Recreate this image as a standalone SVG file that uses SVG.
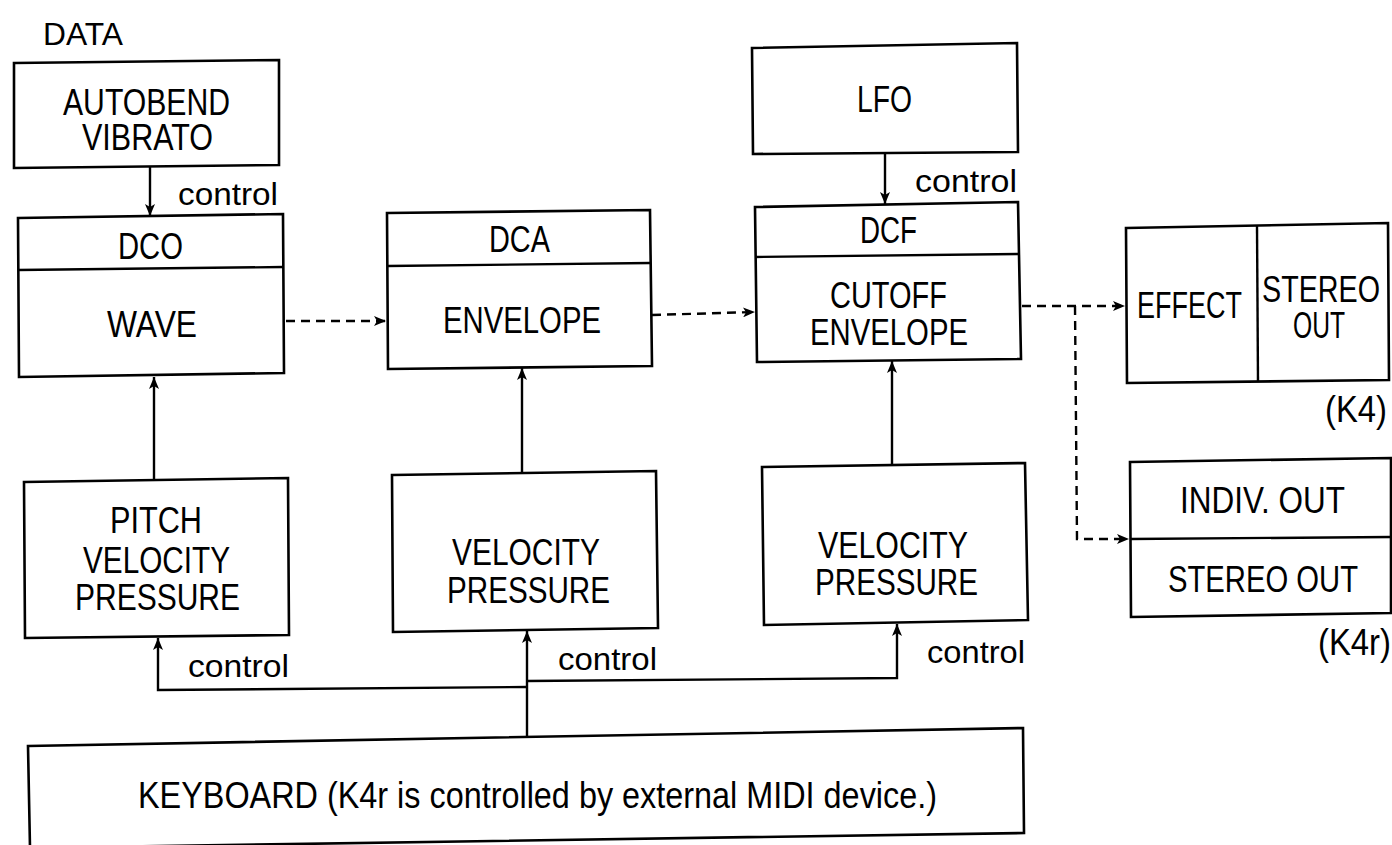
<svg xmlns="http://www.w3.org/2000/svg" width="1392" height="845" viewBox="0 0 1392 845">
<defs>
<style>
.box{fill:#fff;stroke:#000;stroke-width:2.6;stroke-linejoin:miter}
.ln{fill:none;stroke:#000;stroke-width:2.4}
.dash{fill:none;stroke:#000;stroke-width:2.4;stroke-dasharray:9 6}
.t{font-family:"Liberation Sans",Arial,sans-serif;font-size:37px;fill:#000}
.c{font-family:"Liberation Sans",Arial,sans-serif;font-size:32px;fill:#000}
</style>
<marker id="ah" viewBox="0 0 12 10" refX="12" refY="5" markerWidth="12" markerHeight="10" markerUnits="userSpaceOnUse" orient="auto">
<path d="M0,0 L12,5 L0,10 L3,5 Z" fill="#000"/>
</marker>
</defs>
<rect width="1392" height="845" fill="#fff"/>

<text class="t" x="43" y="45" textLength="80" lengthAdjust="spacingAndGlyphs" style="font-size:32px">DATA</text>

<g id="autobend">
<polygon class="box" points="14,63 279,60 279,165 14,168"/>
<text class="t" x="63" y="115" textLength="167" lengthAdjust="spacingAndGlyphs">AUTOBEND</text>
<text class="t" x="82" y="150" textLength="131" lengthAdjust="spacingAndGlyphs">VIBRATO</text>
</g>

<g id="dco">
<polygon class="box" points="18,218 283,214 284,373 19,377"/>
<line class="ln" x1="18" y1="270" x2="283" y2="267"/>
<text class="t" x="118" y="259" textLength="65" lengthAdjust="spacingAndGlyphs">DCO</text>
<text class="t" x="107" y="337" textLength="90" lengthAdjust="spacingAndGlyphs">WAVE</text>
</g>

<g id="dca">
<polygon class="box" points="387,213 650,210 652,366 388,369"/>
<line class="ln" x1="387" y1="266" x2="650" y2="263"/>
<text class="t" x="489" y="252" textLength="61" lengthAdjust="spacingAndGlyphs">DCA</text>
<text class="t" x="443" y="333" textLength="158" lengthAdjust="spacingAndGlyphs">ENVELOPE</text>
</g>

<g id="lfo">
<polygon class="box" points="752,48 1017,43 1018,152 753,154"/>
<text class="t" x="857" y="112" textLength="55" lengthAdjust="spacingAndGlyphs">LFO</text>
</g>

<g id="dcf">
<polygon class="box" points="755,207 1018,202 1021,359 757,362"/>
<line class="ln" x1="755" y1="257" x2="1018" y2="254"/>
<text class="t" x="860" y="243" textLength="57" lengthAdjust="spacingAndGlyphs">DCF</text>
<text class="t" x="830" y="308" textLength="117" lengthAdjust="spacingAndGlyphs">CUTOFF</text>
<text class="t" x="810" y="345" textLength="158" lengthAdjust="spacingAndGlyphs">ENVELOPE</text>
</g>

<g id="effect">
<polygon class="box" points="1126,228 1388,223 1389,380 1127,383"/>
<line class="ln" x1="1257" y1="226" x2="1258" y2="382"/>
<text class="t" x="1137" y="318" textLength="105" lengthAdjust="spacingAndGlyphs">EFFECT</text>
<text class="t" x="1262" y="302" textLength="118" lengthAdjust="spacingAndGlyphs">STEREO</text>
<text class="t" x="1293" y="338" textLength="52" lengthAdjust="spacingAndGlyphs">OUT</text>
<text class="t" x="1325" y="422" textLength="62" lengthAdjust="spacingAndGlyphs">(K4)</text>
</g>

<g id="indiv">
<polygon class="box" points="1130,462 1391,458 1391,613 1131,617"/>
<line class="ln" x1="1130" y1="539" x2="1391" y2="537"/>
<text class="t" x="1180" y="513" textLength="165" lengthAdjust="spacingAndGlyphs">INDIV. OUT</text>
<text class="t" x="1168" y="592" textLength="190" lengthAdjust="spacingAndGlyphs">STEREO OUT</text>
<text class="t" x="1318" y="655" textLength="73" lengthAdjust="spacingAndGlyphs">(K4r)</text>
</g>

<g id="pitch">
<polygon class="box" points="24,482 288,478 289,635 25,638"/>
<text class="t" x="110" y="533" textLength="92" lengthAdjust="spacingAndGlyphs">PITCH</text>
<text class="t" x="83" y="573" textLength="147" lengthAdjust="spacingAndGlyphs">VELOCITY</text>
<text class="t" x="75" y="610" textLength="165" lengthAdjust="spacingAndGlyphs">PRESSURE</text>
</g>

<g id="velpress1">
<polygon class="box" points="392,475 656,471 658,628 393,632"/>
<text class="t" x="452" y="565" textLength="148" lengthAdjust="spacingAndGlyphs">VELOCITY</text>
<text class="t" x="447" y="603" textLength="163" lengthAdjust="spacingAndGlyphs">PRESSURE</text>
</g>

<g id="velpress2">
<polygon class="box" points="762,467 1025,463 1028,620 764,625"/>
<text class="t" x="818" y="558" textLength="150" lengthAdjust="spacingAndGlyphs">VELOCITY</text>
<text class="t" x="815" y="595" textLength="163" lengthAdjust="spacingAndGlyphs">PRESSURE</text>
</g>

<g id="keyboard">
<polygon class="box" points="28,746 1023,728 1024,833 30,848"/>
<text class="t" x="138" y="808" textLength="799" lengthAdjust="spacingAndGlyphs">KEYBOARD (K4r is controlled by external MIDI device.)</text>
</g>

<g id="connectors">
<line class="ln" x1="150" y1="166" x2="150" y2="216" marker-end="url(#ah)"/>
<text class="c" x="178" y="205" textLength="100" lengthAdjust="spacingAndGlyphs">control</text>
<line class="ln" x1="885" y1="153" x2="885" y2="204" marker-end="url(#ah)"/>
<text class="c" x="915" y="192" textLength="102" lengthAdjust="spacingAndGlyphs">control</text>

<line class="dash" x1="286" y1="321" x2="386" y2="321" marker-end="url(#ah)"/>
<line class="dash" x1="652" y1="315" x2="755" y2="312" marker-end="url(#ah)"/>
<line class="dash" x1="1022" y1="306" x2="1125" y2="306" marker-end="url(#ah)"/>
<polyline class="dash" points="1075,306 1077,539 1129,539" marker-end="url(#ah)"/>

<line class="ln" x1="154" y1="480" x2="154" y2="377" marker-end="url(#ah)"/>
<line class="ln" x1="522" y1="472" x2="522" y2="368" marker-end="url(#ah)"/>
<line class="ln" x1="892" y1="464" x2="892" y2="361" marker-end="url(#ah)"/>

<line class="ln" x1="527" y1="737" x2="527" y2="631" marker-end="url(#ah)"/>
<polyline class="ln" points="527,687 158,690 158,638" marker-end="url(#ah)"/>
<polyline class="ln" points="527,681 897,678 897,624" marker-end="url(#ah)"/>
<text class="c" x="188" y="677" textLength="101" lengthAdjust="spacingAndGlyphs">control</text>
<text class="c" x="558" y="670" textLength="99" lengthAdjust="spacingAndGlyphs">control</text>
<text class="c" x="927" y="663" textLength="98" lengthAdjust="spacingAndGlyphs">control</text>
</g>
</svg>
